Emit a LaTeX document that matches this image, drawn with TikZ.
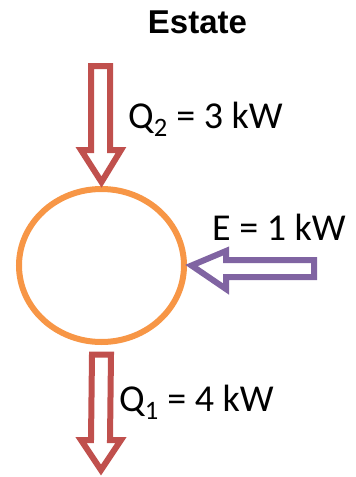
\documentclass[tikz,border=0pt]{standalone}
\usepackage{fontspec}
\setmainfont{Carlito}
\newfontfamily\headfont{Liberation Sans}
\usepackage{xcolor}
\usepackage{tikz}
\usetikzlibrary{shapes.geometric}
\definecolor{heatred}{HTML}{C0504D}
\definecolor{ringorange}{HTML}{F79646}
\definecolor{workpurple}{HTML}{8064A2}

\begin{document}
\begin{tikzpicture}[
  x=1pt, y=-1pt,
  ttl/.style={
    anchor=base, inner sep=0pt,
    font=\headfont\bfseries\fontsize{33}{39}\selectfont
  },
  qty/.style={
    anchor=base west, inner sep=0pt,
    font=\fontsize{38}{44}\selectfont
  },
  ring/.style={
    draw=ringorange, line width=6pt, ellipse,
    minimum width=165pt, minimum height=153pt
  },
  blk/.style={line width=6pt, line join=miter, fill=white},
]
\useasboundingbox (0,0) rectangle (356,477);

%% ---- Title ----
\node[ttl] (title) at (197.5,33) {Estate};

%% ---- System (y = 265.5) ----
\node[ring] (sys) at (101.5,265.5) {};

%% ---- Q2 in, from the top ----
\coordinate (q2tip) at ([yshift=4pt]sys.north);
\draw[blk, draw=heatred]
  (91,66) -- (110,66) -- (110,150) -- (121,150)
  -- (q2tip) -- (81,150) -- (91,150) -- cycle;
\node[qty] (q2lbl) at (128,128) {Q\textsubscript{2} = 3 kW};

%% ---- E in, from the right ----
\coordinate (etip) at ([xshift=4.5pt]sys.east);
\draw[blk, draw=workpurple]
  (314,260) -- (314,277) -- (226,277) -- (226,289)
  -- (etip) -- (226,251) -- (226,260) -- cycle;
\node[qty] (elbl) at (212,240) {E = 1 kW};

%% ---- Q1 out, at the bottom ----
\coordinate (q1top) at ([yshift=-9.5pt]sys.south);
\coordinate (q1tip) at (101,470);
\draw[blk, draw=heatred]
  ([xshift=-9.5pt]q1top) -- ([xshift=9.5pt]q1top) -- (110,440) -- (121,440)
  -- (q1tip) -- (81,440) -- (91,440) -- cycle;
\node[qty] (q1lbl) at (119,411) {Q\textsubscript{1} = 4 kW};

\end{tikzpicture}
\end{document}
